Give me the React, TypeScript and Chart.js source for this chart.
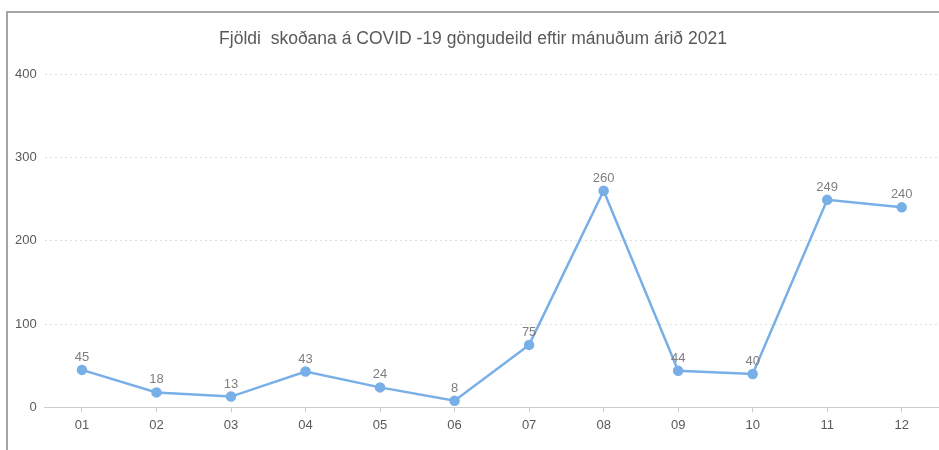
import React, { useEffect, useRef } from "react";
import { Chart, registerables } from "chart.js";

Chart.register(...registerables);

const months = ["01", "02", "03", "04", "05", "06", "07", "08", "09", "10", "11", "12"];
const visits = [45, 18, 13, 43, 24, 8, 75, 260, 44, 40, 249, 240];
const yTicks = [0, 100, 200, 300, 400];
const titleText = "Fjöldi  skoðana á COVID -19 göngudeild eftir mánuðum árið 2021";

const FONT = "'Liberation Sans', Arial, sans-serif";

const valueLabels = {
  id: "valueLabels",
  afterDatasetsDraw(chart: any) {
    const ctx = chart.ctx;
    const meta = chart.getDatasetMeta(0);
    const data = chart.data.datasets[0].data;
    ctx.save();
    ctx.fillStyle = "#7f7f7f";
    ctx.font = "13px " + FONT;
    ctx.textAlign = "center";
    ctx.textBaseline = "bottom";
    meta.data.forEach((pt: any, i: number) => {
      ctx.fillText(String(data[i]), pt.x, pt.y - 6);
    });
    ctx.restore();
  },
};

export default function App() {
  const ref = useRef<HTMLCanvasElement>(null);
  useEffect(() => {
    if (!ref.current) return;
    const chart = new Chart(ref.current, {
      type: "line",
      data: {
        labels: months,
        datasets: [
          {
            data: visits,
            borderColor: "#78afe7",
            backgroundColor: "#78afe7",
            borderWidth: 2.5,
            pointRadius: 4,
            pointHoverRadius: 4,
            tension: 0,
          },
        ],
      },
      options: {
        responsive: false,
        animation: false,
        layout: { autoPadding: false, padding: { left: 7, right: 0, top: 0, bottom: 12 } },
        plugins: {
          legend: { display: false },
          tooltip: { enabled: false },
          title: {
            display: true,
            text: titleText,
            color: "#595959",
            font: { family: FONT, size: 17.5, weight: "normal" },
            padding: { top: 29, bottom: 24 },
          },
        },
        scales: {
          x: {
            offset: true,
            grid: {
              display: true,
              drawOnChartArea: false,
              drawTicks: true,
              tickLength: 5,
              color: "#cccccc",
            },
            border: { display: true, color: "#cccccc", width: 1 },
            ticks: {
              color: "#595959",
              font: { family: FONT, size: 13 },
              padding: 5,
              maxRotation: 0,
            },
          },
          y: {
            min: 0,
            max: 400,
            afterBuildTicks: (s: any) => {
              s.ticks = yTicks.map((v) => ({ value: v }));
            },
            grid: {
              color: "#dddddd",
              drawTicks: false,
              lineWidth: 1,
            },
            border: { display: false, dash: [2, 3] },
            ticks: {
              color: "#595959",
              font: { family: FONT, size: 13 },
              padding: 8,
            },
          },
        },
      },
      plugins: [valueLabels],
    });
    return () => chart.destroy();
  }, []);

  return (
    <div style={{ position: "absolute", left: 0, top: 0, width: 939, height: 450, background: "#fff", overflow: "hidden" }}>
      <div
        style={{
          position: "absolute",
          left: 6,
          top: 11,
          right: -4,
          bottom: -4,
          borderTop: "2px solid #a6a6a6",
          borderLeft: "2px solid #a6a6a6",
        }}
      />
      <canvas ref={ref} width={939} height={450} style={{ position: "absolute", left: 0, top: 0 }} />
    </div>
  );
}
